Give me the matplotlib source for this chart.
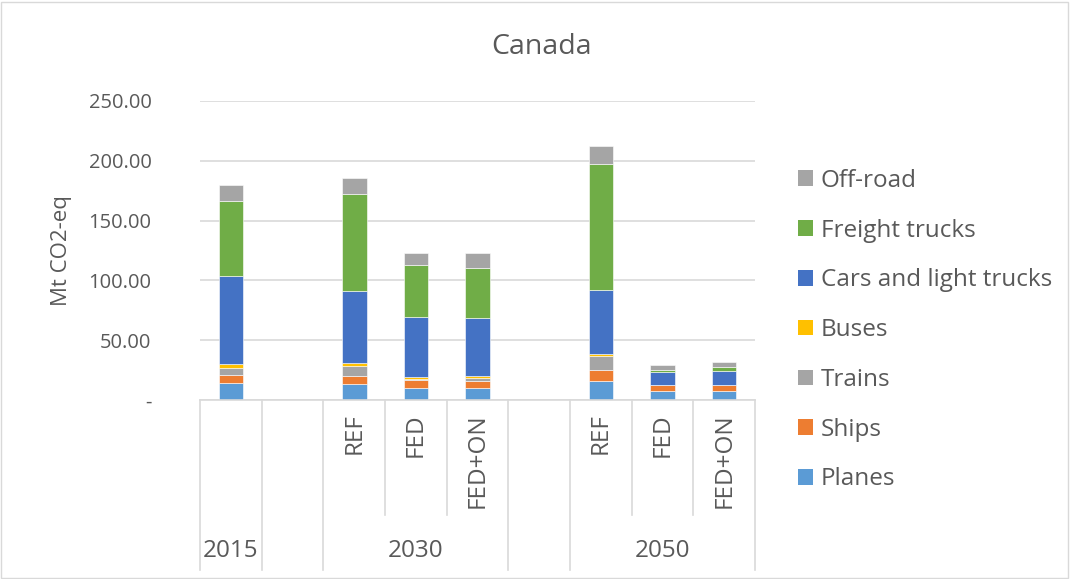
import numpy as np
import matplotlib
matplotlib.use('Agg')
import matplotlib.pyplot as plt
from matplotlib.patches import Rectangle, Patch

plt.rcParams['font.family'] = ['Open Sans', 'DejaVu Sans']

# category slots as in the source sheet (empty rows between years)
years = ['2015', '', '2030', '2030', '2030', '', '2050', '2050', '2050']
scenarios = ['', '', 'REF', 'FED', 'FED+ON', '', 'REF', 'FED', 'FED+ON']
nan = np.nan

planes = [14.5, nan, 13.0, 10.3, 9.7, nan, 16.0, 7.5, 7.5]
ships = [6.3, nan, 7.3, 6.1, 6.3, nan, 9.0, 4.7, 4.7]
trains = [6.2, nan, 8.3, 0.8, 2.6, nan, 11.4, 0.2, 0.2]
buses = [3.5, nan, 2.2, 2.0, 1.4, nan, 1.9, 0.1, 0.1]
cars = [73.0, nan, 60.0, 50.5, 48.9, nan, 53.7, 10.8, 11.4]
freight = [62.5, nan, 81.7, 42.8, 41.4, nan, 105.2, 1.7, 3.3]
offroad = [14.0, nan, 13.5, 10.8, 12.2, nan, 15.3, 4.2, 4.5]

series = [
    ('Planes', planes, '#5B9BD5'),
    ('Ships', ships, '#ED7D31'),
    ('Trains', trains, '#A5A5A5'),
    ('Buses', buses, '#FFC000'),
    ('Cars and light trucks', cars, '#4472C4'),
    ('Freight trucks', freight, '#70AD47'),
    ('Off-road', offroad, '#A5A5A5'),
]

fig = plt.figure(figsize=(10.7, 5.79), dpi=100)
ax = fig.add_axes([200/1070, 179/579, 555/1070, 299/579])

x = np.arange(len(years))
bottom = np.zeros(len(years))
handles = []
for name, vals, col in series:
    v = np.array(vals, dtype=float)
    ax.bar(x, v, 0.4, bottom=bottom, color=col, edgecolor='white', linewidth=0.4)
    bottom = bottom + np.nan_to_num(v)
    handles.append(Patch(facecolor=col, label=name))

ax.set_xlim(-0.5, len(years) - 0.5)
ax.set_ylim(0, 250)
ax.set_yticks([0, 50, 100, 150, 200, 250])
ax.set_yticklabels(['-', '50.00', '100.00', '150.00', '200.00', '250.00'])
ax.tick_params(axis='y', length=0, labelsize=14.5, labelcolor='#595959', pad=35)
ax.yaxis.grid(True, color='#D9D9D9', linewidth=1.2)
ax.set_axisbelow(True)
for s in ['left', 'right', 'top']:
    ax.spines[s].set_visible(False)
ax.spines['bottom'].set_color('#D9D9D9')
ax.spines['bottom'].set_linewidth(1.2)
ax.set_xticks([])
ax.set_ylabel('Mt CO2-eq', fontsize=16, color='#595959', labelpad=12)

# multi-level category axis
tr = ax.get_xaxis_transform()
inner_y = -115/299
outer_y = -170/299
for i in range(len(years) + 1):
    edge = i - 0.5
    left = years[i - 1] if i > 0 else None
    right = years[i] if i < len(years) else None
    full = left is None or right is None or left != right or left == ''
    ax.plot([edge, edge], [0, outer_y if full else inner_y], transform=tr,
            color='#D9D9D9', linewidth=1.2, clip_on=False)
for i, s in enumerate(scenarios):
    if s:
        ax.text(i, -13/299, s, transform=tr, rotation=90, ha='center', va='top',
                fontsize=17.5, color='#595959')
groups = []
for i, yr in enumerate(years):
    if groups and groups[-1][0] == yr and yr != '':
        groups[-1][2] = i
    else:
        groups.append([yr, i, i])
for yr, a, b in groups:
    if yr:
        ax.text((a + b) / 2, -151/299, yr, transform=tr, ha='center', va='center',
                fontsize=17.5, color='#595959')

fig.text(0.506, 0.918, 'Canada', ha='center', va='center', fontsize=20.5, color='#595959')

fig.legend(handles=handles[::-1], loc='upper left', bbox_to_anchor=(776/1070, 1 - 147/579),
           frameon=False, fontsize=17.5, labelcolor='#595959', handlelength=0.62,
           handleheight=0.62, labelspacing=1.06, handletextpad=0.33, borderpad=0.4)

fig.patches.append(Rectangle((0.001, 0.002), 0.997, 0.995, transform=fig.transFigure,
                             fill=False, edgecolor='#D9D9D9', linewidth=1))

fig.savefig('out.png', dpi=100)
